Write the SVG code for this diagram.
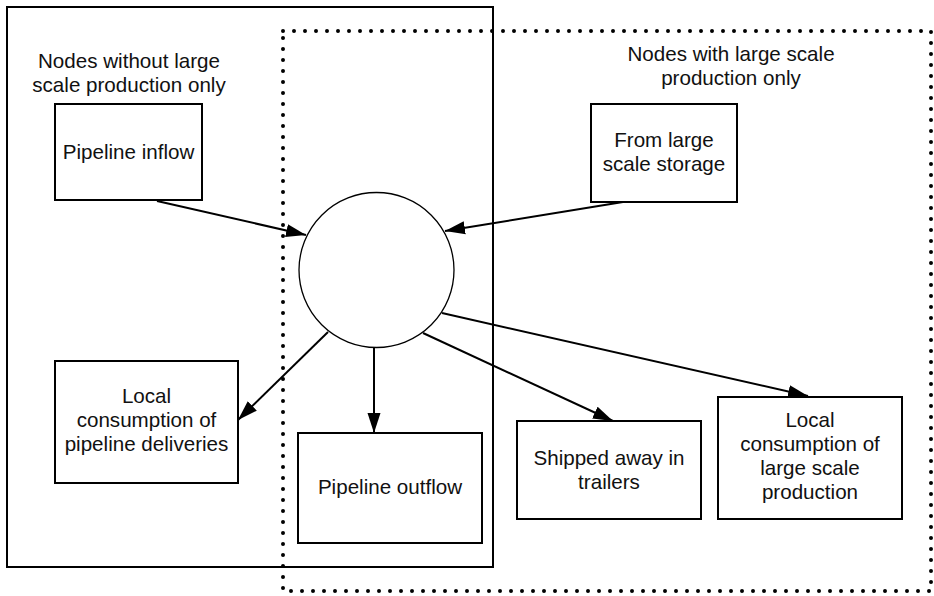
<svg xmlns="http://www.w3.org/2000/svg" width="934" height="596" viewBox="0 0 934 596">
<defs>
<marker id="arr" markerUnits="userSpaceOnUse" markerWidth="20" markerHeight="14" refX="20" refY="7" orient="auto">
<path d="M0,0.5 L20,7 L0,13.5 z" fill="#000"/>
</marker>
<style>
.box{fill:#fff;stroke:#000;stroke-width:2}
.t{font-family:"Liberation Sans",Arial,sans-serif;font-size:20.6px;fill:#111;text-anchor:middle}
.c{stroke:#000;stroke-width:2;fill:none;marker-end:url(#arr)}
</style>
</defs>
<rect width="934" height="596" fill="#fff"/>
<g id="region-pipeline">
<rect x="7" y="7" width="486" height="560" fill="none" stroke="#000" stroke-width="2"/>
<text class="t" x="129" y="68">Nodes without large</text>
<text class="t" x="129" y="92">scale production only</text>
</g>
<g id="region-large-scale">
<rect x="283" y="31" width="648" height="560" fill="none" stroke="#000" stroke-width="4" stroke-dasharray="0 11" stroke-linecap="round"/>
<text class="t" x="731" y="61">Nodes with large scale</text>
<text class="t" x="731" y="85">production only</text>
</g>
<g id="pipeline-inflow">
<rect class="box" x="55" y="104" width="147" height="96"/>
<text class="t" x="128.5" y="159">Pipeline inflow</text>
</g>
<g id="from-storage">
<rect class="box" x="591" y="104" width="146" height="98"/>
<text class="t" x="664" y="147">From large</text>
<text class="t" x="664" y="171">scale storage</text>
</g>
<g id="hub">
<circle cx="376.5" cy="270" r="77.5" fill="#fff" stroke="#000" stroke-width="1.3"/>
</g>
<g id="local-pipeline">
<rect class="box" x="55" y="361" width="183" height="122"/>
<text class="t" x="146.5" y="403">Local</text>
<text class="t" x="146.5" y="427">consumption of</text>
<text class="t" x="146.5" y="451">pipeline deliveries</text>
</g>
<g id="pipeline-outflow">
<rect class="box" x="298" y="433" width="184" height="110"/>
<text class="t" x="390" y="494">Pipeline outflow</text>
</g>
<g id="shipped">
<rect class="box" x="517" y="421" width="184" height="98"/>
<text class="t" x="609" y="465">Shipped away in</text>
<text class="t" x="609" y="489">trailers</text>
</g>
<g id="local-large">
<rect class="box" x="718" y="397" width="184" height="122"/>
<text class="t" x="810" y="427">Local</text>
<text class="t" x="810" y="451">consumption of</text>
<text class="t" x="810" y="475">large scale</text>
<text class="t" x="810" y="499">production</text>
</g>
<g id="connectors">
<line class="c" x1="157" y1="201" x2="306" y2="235"/>
<line class="c" x1="623" y1="202" x2="445" y2="231"/>
<line class="c" x1="328" y1="332" x2="238" y2="420"/>
<line class="c" x1="374" y1="348" x2="374" y2="433"/>
<line class="c" x1="423" y1="333" x2="613" y2="421"/>
<line class="c" x1="442" y1="313" x2="808" y2="396"/>
</g>
</svg>
